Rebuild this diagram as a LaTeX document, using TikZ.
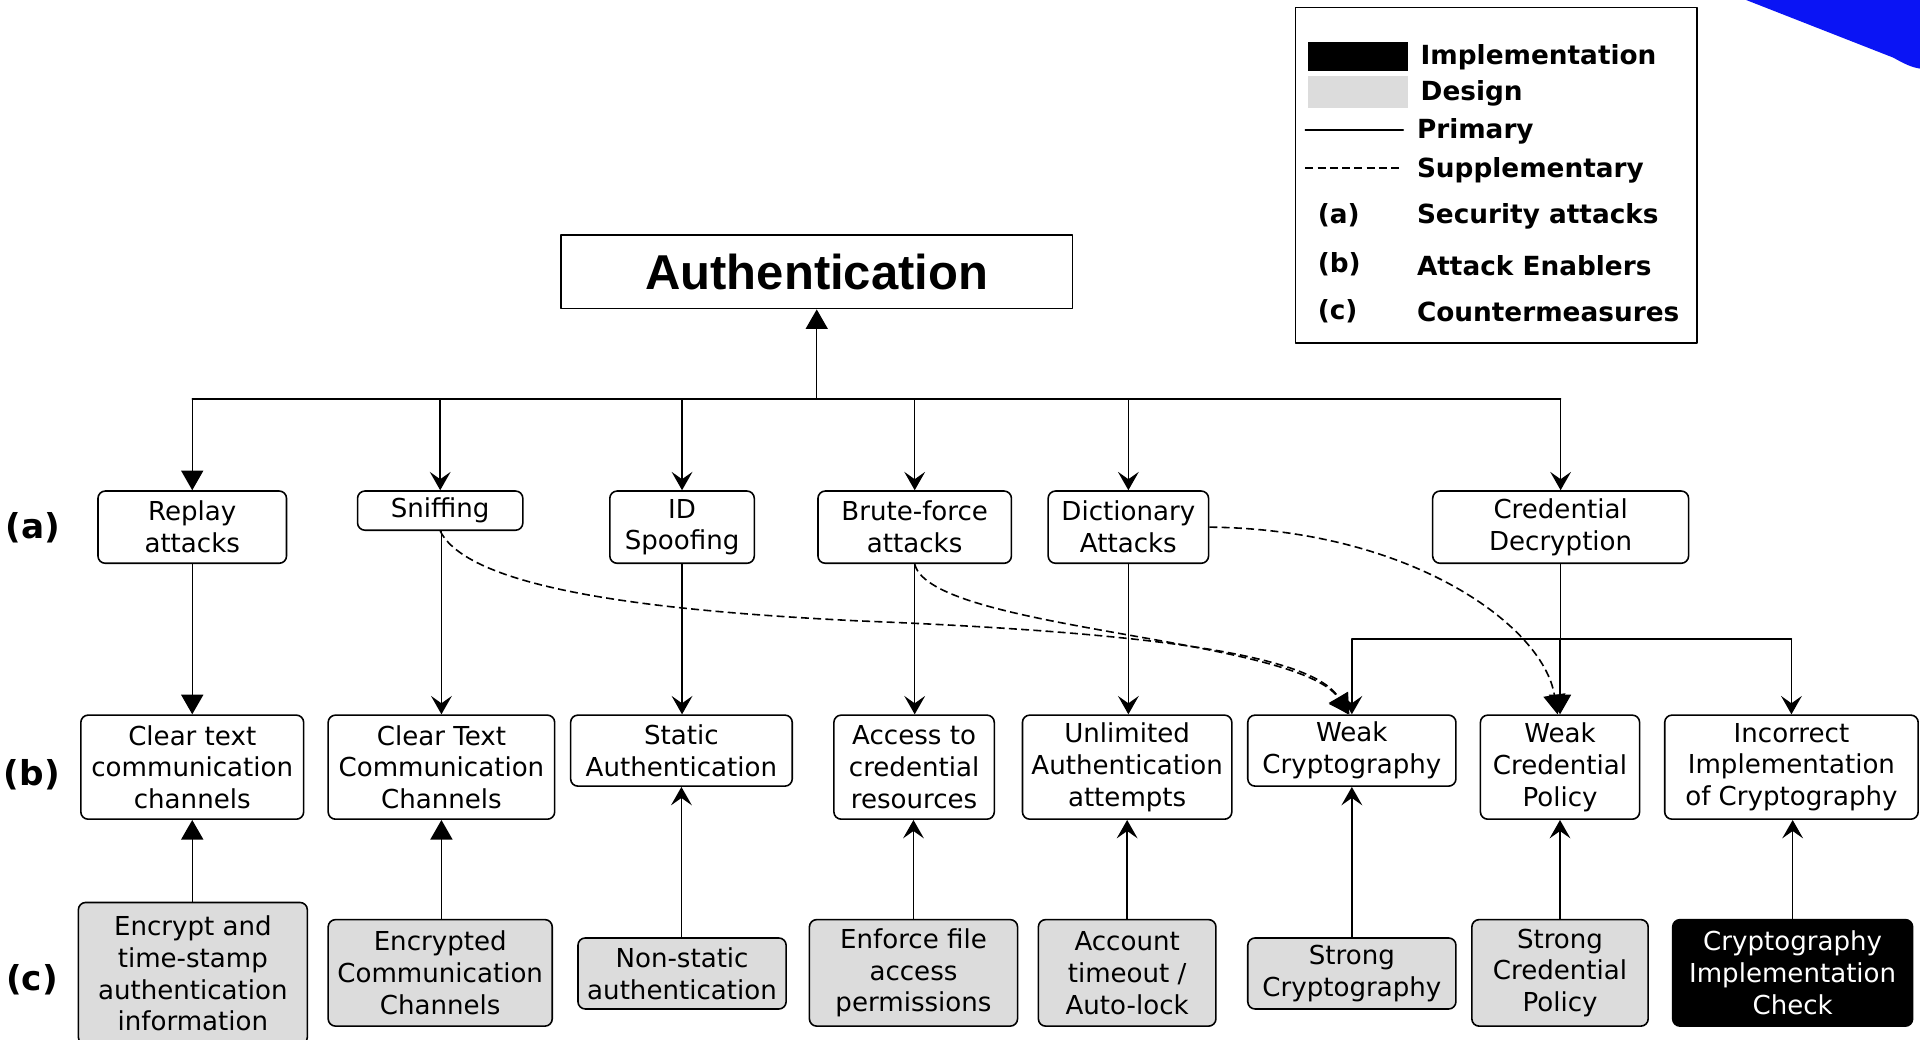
\documentclass[tikz,border=0pt]{standalone}
\usepackage{fontspec}
\setmainfont{DejaVu Sans}
\newfontfamily\titlefont{Liberation Sans}
\usetikzlibrary{arrows.meta}
\definecolor{dsgray}{RGB}{220,220,220}
\definecolor{swoosh}{RGB}{10,20,245}
\begin{document}
\begin{tikzpicture}[x=1pt, y=-1pt, line join=round, line cap=round,
	box/.style={draw, rounded corners=6pt, line width=1.3pt, align=center, inner sep=0pt, font=\fontsize{21.3}{26}\selectfont},
	whitebox/.style={box, fill=white},
	designbox/.style={box, fill=dsgray},
	implbox/.style={box, fill=black, text=white},
	rowlabel/.style={font=\bfseries\fontsize{28}{34}\selectfont},
	legtext/.style={anchor=west, inner sep=0pt, font=\bfseries\fontsize{21.5}{26}\selectfont},
	prim/.style={line width=1.2pt},
	supp/.style={line width=1.3pt, line cap=butt, dash pattern=on 6.5pt off 3.5pt},
	tri/.style={-{Triangle[length=16pt, width=18pt]}},
	stl/.style={-{Stealth[length=15pt, width=17pt, inset=6pt]}}]
			\useasboundingbox (0, 0) rectangle (1568, 849);
			\fill[swoosh] (1426, 0) -- (1546, 47) .. controls (1555, 52) and (1561, 55) .. (1568, 56) -- (1568, 0) -- cycle; 
			\node[draw, line width=1.3pt, minimum width=418, minimum height=60, inner sep=0pt, font=\titlefont\bfseries\fontsize{40}{48}\selectfont] (auth) at (667, 222) {Authentication}; 
			\node[rowlabel] (rowa) at (27, 431) {(a)}; 
			\node[rowlabel] (rowb) at (26, 633) {(b)}; 
			\node[rowlabel] (rowc) at (26, 800) {(c)}; 
			\node[whitebox, minimum width=154, minimum height=59] (replay) at (157, 430.5) {Replay\\attacks}; 
			\node[whitebox, minimum width=135, minimum height=32] (sniff) at (359.5, 417) {Sniffing}; 
			\node[whitebox, minimum width=118, minimum height=59] (idspoof) at (557, 430.5) {ID\\Spoofing}; 
			\node[whitebox, minimum width=158, minimum height=59] (brute) at (747, 430.5) {Brute-force\\attacks}; 
			\node[whitebox, minimum width=131, minimum height=59] (dict) at (921.5, 430.5) {Dictionary\\Attacks}; 
			\node[whitebox, minimum width=209, minimum height=59] (creddec) at (1274.5, 430.5) {Credential\\Decryption}; 
			\node[whitebox, minimum width=182, minimum height=85] (cleara) at (157, 626.5) {Clear text\\communication\\channels}; 
			\node[whitebox, minimum width=185, minimum height=85] (clearb) at (360.5, 626.5) {Clear Text\\Communication\\Channels}; 
			\node[whitebox, minimum width=181, minimum height=58] (static) at (556.5, 613) {Static\\Authentication}; 
			\node[whitebox, minimum width=131, minimum height=85] (access) at (746.5, 626.5) {Access to\\credential\\resources}; 
			\node[whitebox, minimum width=171, minimum height=85] (unlim) at (920.5, 626.5) {Unlimited\\Authentication\\attempts}; 
			\node[whitebox, minimum width=170, minimum height=58] (weakcr) at (1104, 613) {Weak\\Cryptography}; 
			\node[whitebox, minimum width=130, minimum height=85] (weakpol) at (1274, 626.5) {Weak\\Credential\\Policy}; 
			\node[whitebox, minimum width=207, minimum height=85] (incorr) at (1463, 626.5) {Incorrect\\Implementation\\of Cryptography}; 
			\node[designbox, minimum width=187, minimum height=116] (encts) at (157.5, 795) {Encrypt and\\time-stamp\\authentication\\information}; 
			\node[designbox, minimum width=183, minimum height=87] (enccom) at (359.5, 794.5) {Encrypted\\Communication\\Channels}; 
			\node[designbox, minimum width=170, minimum height=58] (nonstat) at (557, 795) {Non-static\\authentication}; 
			\node[designbox, minimum width=170, minimum height=87] (enforce) at (746, 794.5) {Enforce file\\access\\permissions}; 
			\node[designbox, minimum width=145, minimum height=87] (account) at (920.5, 794.5) {Account\\timeout /\\Auto-lock}; 
			\node[designbox, minimum width=170, minimum height=58] (strongcr) at (1104, 795) {Strong\\Cryptography}; 
			\node[designbox, minimum width=144, minimum height=87] (strongpol) at (1274, 794.5) {Strong\\Credential\\Policy}; 
			\node[implbox, minimum width=196, minimum height=87] (cryptchk) at (1464, 794.5) {Cryptography\\Implementation\\Check}; 
			\coordinate (busa) at (667, 326); 
			\coordinate (busb) at (1274, 522); 
			\draw[prim] (replay.north |- busa) -- (creddec.north |- busa); 
			\draw[prim, tri] (busa) -- (auth); 
			\draw[prim, tri] (replay.north |- busa) -- (replay.north); 
			\foreach \n in {sniff, idspoof, brute, dict, creddec}
			\draw[prim, stl] (\n.north |- busa) -- (\n.north); 
			\draw[prim, tri] (replay.south) -- (replay.south |- cleara.north); 
			\draw[prim, stl] (clearb.north |- sniff.south) -- (clearb.north); 
			\draw[prim, stl] (idspoof.south) -- (idspoof.south |- static.north); 
			\draw[prim, stl] (brute.south) -- (brute.south |- access.north); 
			\draw[prim, stl] (dict.south) -- (dict.south |- unlim.north); 
			\draw[prim] (creddec.south) -- (creddec.south |- busb); 
			\draw[prim] (weakcr.north |- busb) -- (incorr.north |- busb); 
			\draw[prim, stl] (weakcr.north |- busb) -- (weakcr.north); 
			\draw[prim, tri] (weakpol.north |- busb) -- (weakpol.north); 
			\draw[prim, stl] (incorr.north |- busb) -- (incorr.north); 
			\draw[prim, tri] (cleara.south |- encts.north) -- (cleara.south); 
			\draw[prim, tri] (clearb.south |- enccom.north) -- (clearb.south); 
			\draw[prim, stl] (static.south |- nonstat.north) -- (static.south); 
			\draw[prim, stl] (enforce.north) -- (enforce.north |- access.south); 
			\draw[prim, stl] (account.north) -- (unlim.south); 
			\draw[prim, stl] (strongcr.north) -- (weakcr.south); 
			\draw[prim, stl] (strongpol.north) -- (weakpol.south); 
			\draw[prim, stl] (cryptchk.north) -- (cryptchk.north |- incorr.south); 
			\draw[supp, tri] (sniff.south) .. controls (385, 485) and (560, 500) .. (700, 507) .. controls (900, 515) and (1070, 530) .. ([xshift=-3pt]weakcr.north); 
			\draw[supp, tri] (brute.south) .. controls (760, 515) and (1060, 520) .. ([xshift=-2pt]weakcr.north); 
			\draw[supp, tri] (dict.east) .. controls (1150, 432) and (1260, 510) .. ([xshift=-2pt]weakpol.north); 
			\node[draw, line width=1.3pt, minimum width=328, minimum height=274, inner sep=0pt] (legend) at (1222, 143) {}; 
			\node[fill=black, minimum width=82, minimum height=24, inner sep=0pt] (swimpl) at (1109, 46) {}; 
			\node[fill=dsgray, minimum width=82, minimum height=26, inner sep=0pt] (swdes) at (1109, 75) {}; 
			\coordinate (lnpa) at (1066, 106); 
			\coordinate (lnpb) at (1146, 106); 
			\coordinate (lnsa) at (1066, 137); 
			\coordinate (lnsb) at (1143, 137); 
			\draw[prim] (lnpa) -- (lnpb); 
			\draw[supp] (lnsa) -- (lnsb); 
			\node[legtext] (ltimpl) at (1160, 47) {Implementation}; 
			\node[legtext] (ltdes) at (1160, 76) {Design}; 
			\node[legtext] (ltprim) at (1157, 107) {Primary}; 
			\node[legtext] (ltsupp) at (1157, 139) {Supplementary}; 
			\node[legtext] (lka) at (1076, 176) {(a)}; 
			\node[legtext] (lkb) at (1076, 216) {(b)}; 
			\node[legtext] (lkc) at (1076, 254) {(c)}; 
			\node[legtext] (lta) at (1157, 177) {Security attacks}; 
			\node[legtext] (ltb) at (1157, 217) {Attack Enablers}; 
			\node[legtext] (ltc) at (1157, 255) {Countermeasures}; 
	\end{tikzpicture}
\end{document}
